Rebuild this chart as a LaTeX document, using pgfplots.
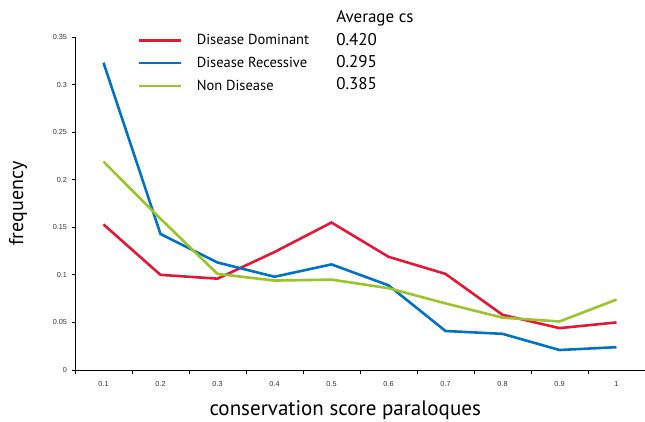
\documentclass[border=0pt]{standalone}
\usepackage{pgfplots}
\pgfplotsset{compat=1.18}
\usepackage{fontspec}
\setmainfont{PT Sans}
\newfontfamily\tickfont{Liberation Sans}
\definecolor{cRed}{RGB}{226,24,54}
\definecolor{cBlue}{RGB}{0,115,194}
\definecolor{cGreen}{RGB}{154,196,40}
\begin{document}
\begin{tikzpicture}
\path[use as bounding box] (0,0) rectangle (645pt,421pt);
\begin{axis}[
  at={(75pt,51pt)}, anchor=south west,
  width=570pt, height=333pt, scale only axis,
  xmin=0.05, xmax=1.05, ymin=0, ymax=0.35,
  clip=false,
  axis x line*=bottom, axis y line*=left,
  axis line style={line width=0.9pt, black},
  tick align=outside,
  xtick={0.1,0.2,0.3,0.4,0.5,0.6,0.7,0.8,0.9,1.0},
  xticklabels={0.1,0.2,0.3,0.4,0.5,0.6,0.7,0.8,0.9,1},
  minor xtick={0.05,0.15,0.25,0.35,0.45,0.55,0.65,0.75,0.85,0.95},
  major x tick style={draw=none},
  minor tick length=3.5pt,
  major tick length=3.5pt,
  every tick/.style={black, line width=0.8pt},
  ytick={0,0.05,0.1,0.15,0.2,0.25,0.3,0.35},
  yticklabels={0,0.05,0.1,0.15,0.2,0.25,0.3,0.35},
  /pgf/number format/assume math mode=true,
  tick label style={font=\tickfont\fontsize{7.3}{8}\selectfont, text=black!80},
  xticklabel style={yshift=-4pt},
  yticklabel style={xshift=-1pt},
  xlabel={conservation score paraloques},
  ylabel={frequency},
  xlabel style={at={(axis description cs:0.474,0)}, anchor=center, yshift=-40pt, font=\fontsize{21}{24}\selectfont},
  ylabel style={at={(axis description cs:-0.1,0.5)}, anchor=center, font=\fontsize{20}{24}\selectfont},
  legend style={draw=none, fill=none, at={(rel axis cs:0.1105,1.014)}, anchor=north west,
    font=\fontsize{14.5}{17}\selectfont, row sep=7pt, inner sep=0pt,
    /tikz/every odd column/.append style={column sep=12pt}},
  legend cell align=left,
  legend image code/.code={\draw[#1, line width=2.6pt] (0pt,0pt) -- (42pt,0pt);},
]
\addplot[cRed, line width=2.6pt] coordinates {
 (0.1,0.153) (0.2,0.100) (0.3,0.096) (0.4,0.124) (0.5,0.155)
 (0.6,0.119) (0.7,0.101) (0.8,0.058) (0.9,0.044) (1.0,0.050)};
\addlegendentry{Disease Dominant}
\addplot[cBlue, line width=2.6pt] coordinates {
 (0.1,0.323) (0.2,0.143) (0.3,0.113) (0.4,0.098) (0.5,0.111)
 (0.6,0.089) (0.7,0.041) (0.8,0.038) (0.9,0.021) (1.0,0.024)};
\addlegendentry{Disease Recessive}
\addplot[cGreen, line width=2.6pt] coordinates {
 (0.1,0.219) (0.2,0.159) (0.3,0.101) (0.4,0.094) (0.5,0.095)
 (0.6,0.086) (0.7,0.070) (0.8,0.055) (0.9,0.051) (1.0,0.074)};
\addlegendentry{Non Disease}
\node[anchor=west, font=\fontsize{17}{20}\selectfont, inner sep=0pt] at (rel axis cs:0.458,1.057) {Average cs};
\node[anchor=west, font=\fontsize{17}{20}\selectfont, inner sep=0pt] at (rel axis cs:0.458,0.992) {0.420};
\node[anchor=west, font=\fontsize{17}{20}\selectfont, inner sep=0pt] at (rel axis cs:0.458,0.926) {0.295};
\node[anchor=west, font=\fontsize{17}{20}\selectfont, inner sep=0pt] at (rel axis cs:0.458,0.860) {0.385};
\end{axis}
\end{tikzpicture}
\end{document}
